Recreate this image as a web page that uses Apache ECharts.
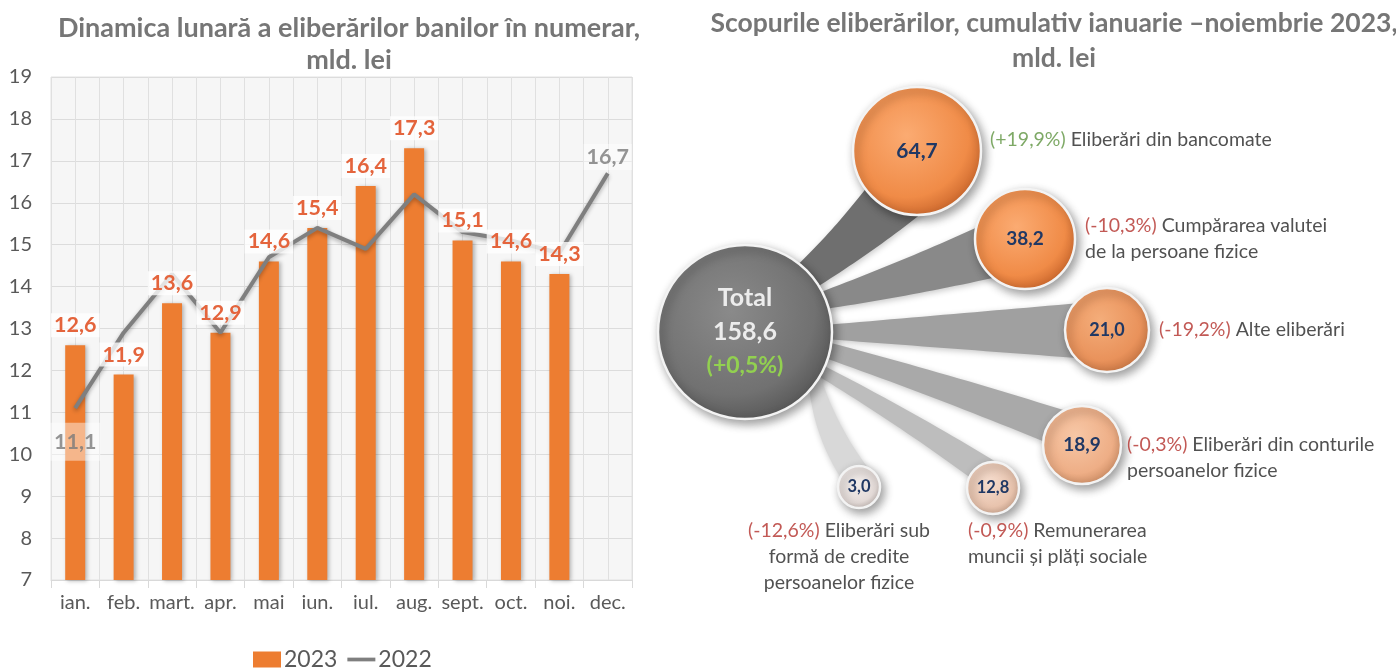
<!DOCTYPE html>
<html><head><meta charset="utf-8">
<script src="https://cdn.jsdelivr.net/npm/echarts@6.0.0/dist/echarts.min.js"></script>
<style>html,body{margin:0;padding:0;background:#fff}#c{width:1396px;height:668px}</style>
</head><body><div id="c"></div>
<script>
// ---------- DATA ----------
const months = ['ian.','feb.','mart.','apr.','mai','iun.','iul.','aug.','sept.','oct.','noi.','dec.'];
const values2023 = [12.6, 11.9, 13.6, 12.9, 14.6, 15.4, 16.4, 17.3, 15.1, 14.6, 14.3, null];
const values2022 = [11.1, 12.9, 14.3, 12.9, 14.7, 15.4, 14.9, 16.2, 15.3, 15.1, 14.8, 16.7];
const yMin = 7, yMax = 19, yStep = 1;

const totalName = 'Total';
const totalValue = 158.6;
const totalChange = 0.5;
const purposeNames = [
  'Eliberări din bancomate',
  'Cumpărarea valutei\nde la persoane fizice',
  'Alte eliberări',
  'Eliberări din conturile\npersoanelor fizice',
  'Remunerarea\nmuncii și plăți sociale',
  'Eliberări sub\nformă de credite\npersoanelor fizice'
];
const purposeValues = [64.7, 38.2, 21.0, 18.9, 12.8, 3.0];
const purposeChanges = [19.9, -10.3, -19.2, -0.3, -0.9, -12.6];

// ---------- LAYOUT (diagram panel units) ----------
const bubbleLayout = [ // [x, y, radius]
  [105, 332, 87],
  [277, 151, 64],
  [385, 239, 50],
  [467, 330, 42],
  [442, 445, 39],
  [353, 488, 26],
  [219, 487, 21]
];
// [startAngle1 on total, endAngle1 on bubble, startAngle2, endAngle2, bend]
const connectorLayout = [
  [52, 215, 32, 280, 4],
  [28, 163, 16, 235, 3],
  [5, 136, -5, 227, 0],
  [-7, 112, -18, 176, -3],
  [-23, 60, -31, 156, -4],
  [-28, 25, -40, 155, 12]
];
const connectorColors = ['#6f6f6f', '#898989', '#a0a0a0', '#a9a9a9', '#bdbdbd', '#d8d8d8'];
const bubbleColors = [ // [light, base, dark]
  ['#8a8a8a', '#717171', '#565656'],
  ['#fbab72', '#f08b47', '#c8642a'],
  ['#fbab72', '#f08b47', '#c8642a'],
  ['#f4ad7a', '#e9925b', '#c57341'],
  ['#f7c7a6', '#eeae86', '#cc8c63'],
  ['#f5dccd', '#e8c3ad', '#c6a08a'],
  ['#f4efed', '#e3dad7', '#bdb2ae']
];
const bubbleFont = [25, 21, 19, 18, 19, 16.5, 16.5];
const descLabelPos = [
  {position: 'right', distance: 9, offset: [0, -11]},
  {position: 'right', distance: 10, offset: [0, 0]},
  {position: 'right', distance: 10, offset: [0, 0]},
  {position: 'right', distance: 6, offset: [0, 13]},
  {position: 'bottom', distance: 4, offset: [-25, 0], align: 'left'},
  {position: 'bottom', distance: 10, offset: [-20, 0], align: 'center'}
];

const FONT = 'Lato, "Open Sans", sans-serif';
const fmt = v => v.toFixed(1).replace('.', ',');

function radial(c) {
  return {type: 'radial', x: 0.42, y: 0.38, r: 0.66,
    colorStops: [{offset: 0, color: c[0]}, {offset: 0.72, color: c[1]}, {offset: 1, color: c[2]}]};
}

const bubbleData = [{
  value: [bubbleLayout[0][0], bubbleLayout[0][1], totalValue],
  symbolSize: bubbleLayout[0][2] * 2,
  itemStyle: {color: radial(bubbleColors[0])},
  label: {
    formatter: '{a|' + totalName + '}\n{a|' + fmt(totalValue) + '}\n{g|(' + (totalChange > 0 ? '+' : '') + fmt(totalChange) + '%)}',
    rich: {
      a: {color: '#ececec', fontSize: 25, fontWeight: 'bold', fontFamily: FONT, lineHeight: 34},
      g: {color: '#92d050', fontSize: 23, fontWeight: 'bold', fontFamily: FONT, lineHeight: 34}
    }
  }
}].concat(purposeValues.map((v, i) => ({
  value: [bubbleLayout[i + 1][0], bubbleLayout[i + 1][1], v],
  symbolSize: bubbleLayout[i + 1][2] * 2,
  itemStyle: {color: radial(bubbleColors[i + 1])},
  label: {formatter: fmt(v), fontSize: bubbleFont[i + 1]}
})));

const DESC_FS = 19.5;
const descData = purposeValues.map((v, i) => {
  const lines = purposeNames[i].split('\n');
  const ch = purposeChanges[i];
  const key = ch >= 0 ? 'pos' : 'neg';
  const first = '{' + key + '|(' + (ch >= 0 ? '+' : '') + fmt(ch) + '%)}{t| ' + lines[0] + '}';
  const rest = lines.slice(1).map(l => '{t|' + l + '}');
  const p = descLabelPos[i];
  return {
    value: [bubbleLayout[i + 1][0], bubbleLayout[i + 1][1], v],
    symbolSize: bubbleLayout[i + 1][2] * 2,
    label: {
      show: true, position: p.position, distance: p.distance, offset: p.offset,
      align: p.align || 'left',
      formatter: [first].concat(rest).join('\n'),
      rich: {
        pos: {color: '#5e9440', fontSize: DESC_FS, fontFamily: FONT, lineHeight: 26},
        neg: {color: '#b3302b', fontSize: DESC_FS, fontFamily: FONT, lineHeight: 26},
        t: {color: '#262626', fontSize: DESC_FS, fontFamily: FONT, lineHeight: 26}
      }
    }
  };
});

function renderConnector(params, api) {
  const i = api.value(0);
  const T = bubbleLayout[0], B = bubbleLayout[i + 1];
  const tc = api.coord([T[0], T[1]]);
  const bc = api.coord([B[0], B[1]]);
  const tr = api.size([T[2], T[2]])[0];
  const br = api.size([B[2], B[2]])[0];
  const L = connectorLayout[i];
  const pt = (c, r, deg) => [c[0] + r * Math.cos(deg * Math.PI / 180), c[1] - r * Math.sin(deg * Math.PI / 180)];
  const A1 = pt(tc, tr * 0.96, L[0]), B1 = pt(bc, br * 0.92, L[1]);
  const A2 = pt(tc, tr * 0.96, L[2]), B2 = pt(bc, br * 0.92, L[3]);
  function curve(P, Q, k) {
    const mx = (P[0] + Q[0]) / 2, my = (P[1] + Q[1]) / 2;
    const dx = Q[0] - P[0], dy = Q[1] - P[1], len = Math.hypot(dx, dy);
    const cx = mx + (-dy / len) * k, cy = my + (dx / len) * k;
    const out = [];
    for (let s = 0; s <= 24; s++) {
      const t = s / 24;
      out.push([(1 - t) * (1 - t) * P[0] + 2 * (1 - t) * t * cx + t * t * Q[0],
                (1 - t) * (1 - t) * P[1] + 2 * (1 - t) * t * cy + t * t * Q[1]]);
    }
    return out;
  }
  const e1 = curve(A1, B1, L[4]);
  const e2 = curve(B2, A2, -L[4]);
  const pts = [tc].concat(e1, [bc], e2);
  return {
    type: 'polygon', shape: {points: pts},
    style: {fill: connectorColors[i], shadowBlur: 6, shadowColor: 'rgba(0,0,0,0.22)', shadowOffsetX: 1, shadowOffsetY: 2}
  };
}

const last = values2022.length - 1;
const label2022Data = values2022.map((v, i) => {
  if (i === 0) return {value: v, label: {show: true, position: 'bottom', distance: 14, padding: [8, 4]}};
  if (i === last) return {value: v, label: {show: true, position: 'top', distance: 3}};
  return '-';
});

const chart = echarts.init(document.getElementById('c'), null, {renderer: 'canvas'});
chart.setOption({
  animation: false,
  backgroundColor: '#ffffff',
  textStyle: {fontFamily: FONT},
  title: [
    {text: 'Dinamica lunară a eliberărilor banilor în numerar,\nmld. lei', left: 344, top: 7, textAlign: 'center',
     textStyle: {fontSize: 27, fontWeight: 'bold', color: '#767676', fontFamily: FONT, lineHeight: 32}},
    {text: 'Scopurile eliberărilor, cumulativ ianuarie –noiembrie 2023,\nmld. lei', left: 1049, top: 1, textAlign: 'center',
     textStyle: {fontSize: 26.5, fontWeight: 'bold', color: '#767676', fontFamily: FONT, lineHeight: 35}}
  ],
  legend: {
    data: [{name: '2023', icon: 'rect'}, {name: '2022', icon: 'path://M0,0h30v4h-30z'}],
    left: 248, top: 643, itemWidth: 28, itemHeight: 16, itemGap: 10,
    textStyle: {fontSize: 23, color: '#595959', fontFamily: FONT, padding: [0, 0, 0, -2]}
  },
  grid: [
    {left: 51, top: 77, width: 581, height: 503, show: true, backgroundColor: '#f6f6f6', borderColor: '#e2e2e2', borderWidth: 1, outerBoundsMode: 'none'},
    {left: 640, top: 0, width: 756, height: 668, outerBoundsMode: 'none'}
  ],
  xAxis: [
    {type: 'category', gridIndex: 0, data: months, boundaryGap: true,
     axisLine: {show: true, lineStyle: {color: '#d9d9d9', width: 1}},
     axisTick: {show: true, length: 8, interval: 0, lineStyle: {color: '#d9d9d9'}},
     axisLabel: {interval: 0, color: '#595959', fontSize: 20, margin: 13, fontFamily: FONT},
     splitLine: {show: false}},
    {type: 'value', gridIndex: 0, min: 0, max: 24, interval: 1, position: 'top',
     axisLine: {show: false}, axisTick: {show: false}, axisLabel: {show: false},
     splitLine: {show: true, lineStyle: {color: '#e0e0e0'}}},
    {type: 'value', gridIndex: 1, min: 0, max: 756, show: false}
  ],
  yAxis: [
    {type: 'value', gridIndex: 0, min: yMin, max: yMax, interval: yStep,
     axisLine: {show: false}, axisTick: {show: false},
     axisLabel: {color: '#595959', fontSize: 20, margin: 19, fontFamily: FONT},
     splitLine: {show: true, lineStyle: {color: '#dcdcdc'}}},
    {type: 'value', gridIndex: 1, min: 0, max: 668, inverse: true, show: false}
  ],
  series: [
    {name: '2023', type: 'bar', xAxisIndex: 0, yAxisIndex: 0, data: values2023, barWidth: 20, barGap: '-100%', z: 2,
     itemStyle: {color: '#ed7d31', shadowBlur: 4, shadowColor: 'rgba(0,0,0,0.28)', shadowOffsetX: 2, shadowOffsetY: 1}},
    {name: '2022', type: 'line', xAxisIndex: 0, yAxisIndex: 0, z: 3, symbol: 'none',
     lineStyle: {color: '#7f7f7f', width: 4, shadowBlur: 4, shadowColor: 'rgba(0,0,0,0.3)', shadowOffsetY: 2},
     itemStyle: {color: '#7f7f7f'},
     data: values2022},
    {name: '2022 labels', type: 'scatter', xAxisIndex: 0, yAxisIndex: 0, z: 4, silent: true, symbolSize: 1,
     itemStyle: {color: 'rgba(0,0,0,0)'},
     data: label2022Data,
     label: {formatter: p => fmt(p.value), color: '#7a7a7a', fontSize: 21.5, fontWeight: 'bold', fontFamily: FONT,
             backgroundColor: 'rgba(255,255,255,0.55)', padding: [2, 3]}},
    {name: '2023 labels', type: 'bar', xAxisIndex: 0, yAxisIndex: 0, data: values2023, barWidth: 20, z: 4, silent: true,
     itemStyle: {color: 'rgba(0,0,0,0)'},
     label: {show: true, position: 'top', distance: 8, formatter: p => p.value == null ? '' : fmt(p.value),
             color: '#e4643c', fontSize: 21.5, fontWeight: 'bold', fontFamily: FONT,
             backgroundColor: 'rgba(255,255,255,0.78)', padding: [1, 3]}},
    {name: 'connectors', type: 'custom', xAxisIndex: 2, yAxisIndex: 1, z: 1, silent: true,
     data: purposeValues.map((v, i) => [i, v]), renderItem: renderConnector},
    {name: 'bubbles', type: 'scatter', xAxisIndex: 2, yAxisIndex: 1, z: 5, silent: true,
     data: bubbleData,
     itemStyle: {borderColor: '#f3f3f3', borderWidth: 2.5, shadowBlur: 10, shadowColor: 'rgba(0,0,0,0.38)', shadowOffsetX: 3, shadowOffsetY: 4, opacity: 1},
     label: {show: true, position: 'inside', color: '#203864', fontWeight: 'bold', fontFamily: FONT}},
    {name: 'descriptions', type: 'scatter', xAxisIndex: 2, yAxisIndex: 1, z: 6, silent: true,
     data: descData, itemStyle: {color: 'rgba(0,0,0,0)'}}
  ]
});
</script>
</body></html>
